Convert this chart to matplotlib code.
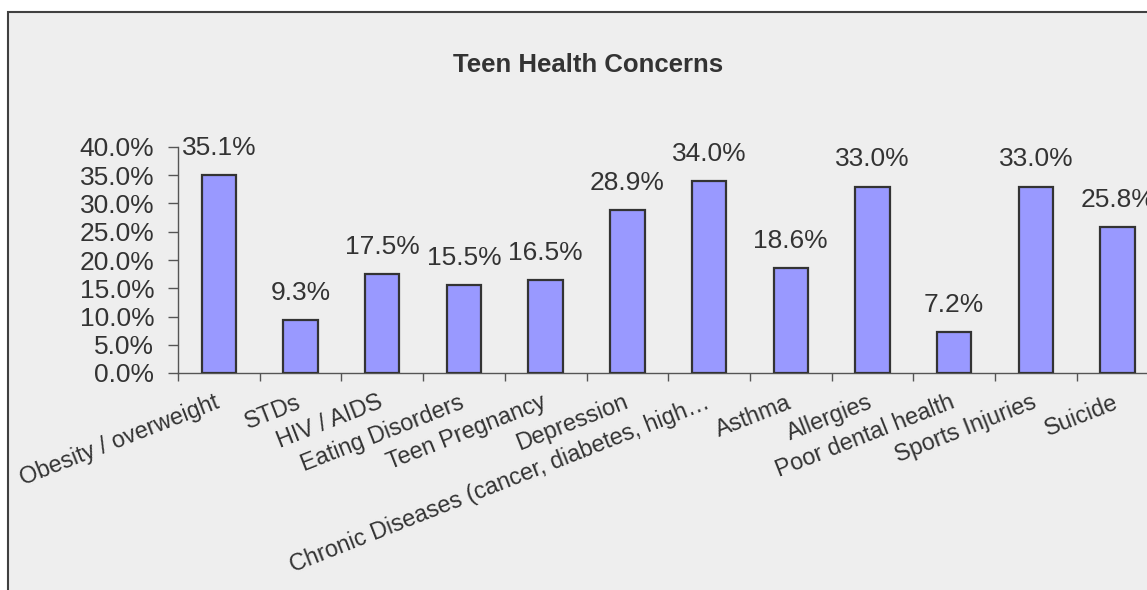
import matplotlib
matplotlib.use("Agg")
import matplotlib.pyplot as plt
from matplotlib.patches import Rectangle
import matplotlib.transforms as mtransforms
import numpy as np

categories = ["Obesity / overweight", "STDs", "HIV / AIDS", "Eating Disorders",
              "Teen Pregnancy", "Depression",
              "Chronic Diseases (cancer, diabetes, high\u2026", "Asthma",
              "Allergies", "Poor dental health", "Sports Injuries", "Suicide"]
values = [35.1, 9.3, 17.5, 15.5, 16.5, 28.9, 34.0, 18.6, 33.0, 7.2, 33.0, 25.8]
yticks = [0, 5, 10, 15, 20, 25, 30, 35, 40]
title = "Teen Health Concerns"

W, H = 1147, 590
plt.rcParams['font.family'] = ['Liberation Sans', 'DejaVu Sans']
TXT = '#333333'

fig = plt.figure(figsize=(W / 100, H / 100), dpi=100, facecolor='white')

# chart area background with border (extends past right/bottom edges)
bg = Rectangle((8 / W, -0.05), 1.1, 1 - 12 / H + 0.05, transform=fig.transFigure,
               facecolor='#EEEEEE', edgecolor='#404040', linewidth=1.5, zorder=-10)
fig.patches.append(bg)

# clipped text at the very top right
fig.text(1092 / W, 1 + 5 / H, "y", ha='center', va='baseline', fontsize=16,
         color='black', fontweight='bold')

fig.text(588 / W, 1 - 65 / H, title, ha='center', va='center', fontsize=18.5,
         fontweight='bold', color=TXT)

left = 178 / W
bottom = (H - 373) / H
height = 226 / H
width = 12 * 81.7 / W
ax = fig.add_axes([left, bottom, width, height], zorder=1)
ax.set_facecolor('none')

x = np.arange(len(categories))
ax.bar(x, values, width=0.42, color='#9999FF', edgecolor='#333333', linewidth=1.6,
       zorder=3)

for xi, v in zip(x, values):
    ax.annotate(f"{v:.1f}%", (xi, v), xytext=(0, 19.5), textcoords='offset points',
                ha='center', va='center', fontsize=19, color=TXT,
                annotation_clip=False, clip_on=False)

ax.set_xlim(-0.5, len(categories) - 0.5)
ax.set_ylim(0, 40)
ax.set_yticks(yticks)
ax.set_yticklabels([f"{t:.1f}%" for t in yticks], fontsize=19, color=TXT)

ax.set_xticks(np.arange(len(categories) + 1) - 0.5, minor=False)
ax.set_xticklabels([])
ax.set_xticks(x, minor=True)
ax.set_xticklabels(categories, minor=True, fontsize=16.8, color=TXT,
                   rotation=21.5, ha='right', va='top', rotation_mode='anchor')
ax.tick_params(axis='x', which='major', direction='out', length=6, width=1,
               color='#555555')
ax.tick_params(axis='x', which='minor', length=0, pad=12)
ax.tick_params(axis='y', direction='out', length=7, width=1, color='#555555', pad=10)

shift = mtransforms.ScaledTranslation(-5 / 100, -1 / 100, fig.dpi_scale_trans)
for lab in ax.get_xticklabels(minor=True):
    lab.set_transform(lab.get_transform() + shift)

for s in ['top', 'right']:
    ax.spines[s].set_visible(False)
for s in ['left', 'bottom']:
    ax.spines[s].set_color('#555555')
    ax.spines[s].set_linewidth(1)

fig.savefig("out.png", dpi=100, facecolor='white')
